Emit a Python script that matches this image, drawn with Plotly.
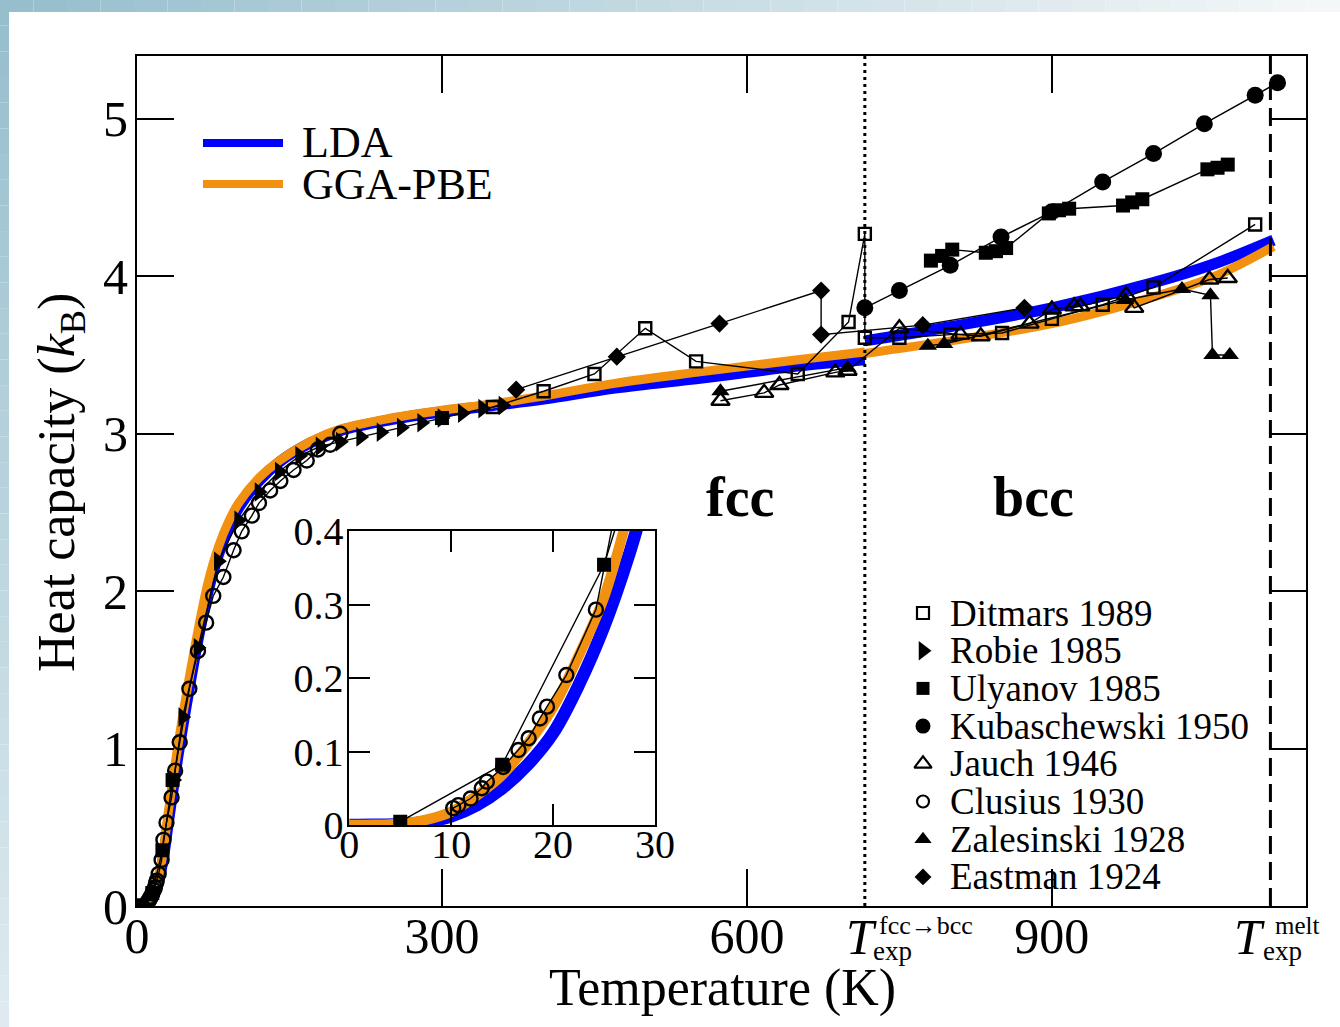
import plotly.graph_objects as go

# ---------------- calculated heat capacity (k_B) ----------------
T_FCC = [0, 2.5, 5, 7.5, 10, 12.5, 15, 17.5, 20, 22.5, 25, 27.5, 30, 35, 40, 45, 50,
         60, 70, 80, 90, 100, 120, 140, 170, 200, 250, 300, 350, 400, 470, 550, 600,
         650, 716]
LDA_FCC = [0, 0.0002, 0.001, 0.004, 0.012, 0.027, 0.05, 0.082, 0.125, 0.19, 0.27,
           0.37, 0.49, 0.72, 0.94, 1.14, 1.33, 1.69, 2.00, 2.23, 2.40, 2.53, 2.70,
           2.82, 2.94, 3.02, 3.09, 3.14, 3.18, 3.22, 3.29, 3.35, 3.39, 3.43, 3.47]
GGA_FCC = [0, 0.0003, 0.002, 0.007, 0.018, 0.04, 0.068, 0.11, 0.16, 0.23, 0.31,
           0.43, 0.56, 0.79, 1.01, 1.21, 1.40, 1.75, 2.06, 2.28, 2.44, 2.56, 2.72,
           2.83, 2.95, 3.03, 3.10, 3.15, 3.19, 3.24, 3.32, 3.39, 3.43, 3.47, 3.52]
T_BCC = [716, 800, 900, 1000, 1060, 1118]
LDA_BCC = [3.59, 3.68, 3.80, 3.96, 4.08, 4.23]
GGA_BCC = [3.51, 3.59, 3.70, 3.87, 4.00, 4.19]

# ---------------- experimental data (k_B) ----------------
DITMARS_T = [350, 400, 450, 500, 550, 650, 700, 716, 716, 750, 800, 851, 900, 950, 1000, 1100]
DITMARS_C = [3.17, 3.27, 3.38, 3.67, 3.46, 3.38, 3.71, 4.27, 3.61, 3.61, 3.63, 3.64, 3.73,
             3.82, 3.93, 4.33]

ROBIE_T = [36, 45, 60, 80, 100, 120, 140, 160, 180, 200, 220, 240, 260, 280, 300, 320, 340, 360]
ROBIE_C = [0.80, 1.20, 1.64, 2.19, 2.45, 2.63, 2.76, 2.86, 2.92, 2.95, 2.98, 3.01, 3.04,
           3.07, 3.10, 3.13, 3.16, 3.18]

ULYANOV_T = [5, 15, 25, 35, None, 300, None,
             781, 792, 802, 835, 845, 855, 897, 907, 917, 970, 979, 989, 1053, 1063, 1073]
ULYANOV_C = [0.0045, 0.082, 0.354, 0.80, None, 3.10, None,
             4.10, 4.13, 4.17, 4.15, 4.16, 4.18, 4.40, 4.42, 4.43, 4.45, 4.47, 4.49,
             4.68, 4.69, 4.71]

KUBASCHEWSKI_T = [716, 750, 800, 850, 900, 950, 1000, 1050, 1100, 1122]
KUBASCHEWSKI_C = [3.80, 3.91, 4.07, 4.25, 4.41, 4.60, 4.78, 4.97, 5.15, 5.23]

JAUCH_T = [574, 617, 632, 687, 699, 750, 810, 830, 878, 900, 922, 928, 973, 981, 1055, 1073]
JAUCH_C = [3.21, 3.26, 3.31, 3.39, 3.40, 3.67, 3.63, 3.62, 3.70, 3.79, 3.81, 3.81, 3.88,
           3.80, 3.98, 3.99]

CLUSIUS_T = [10.2, 10.7, 11.9, 13.0, 13.5, 15.1, 16.6, 17.6, 18.7, 19.4, 21.3, 24.2, 26,
             29, 34, 37.5, 42, 51.5, 60, 68, 75, 85, 95, 103, 113, 120, 131, 141, 154,
             167, 178, 190, 200]
CLUSIUS_C = [0.023, 0.027, 0.036, 0.050, 0.059, 0.079, 0.102, 0.118, 0.145, 0.161, 0.204,
             0.293, 0.42, 0.53, 0.69, 0.86, 1.04, 1.38, 1.62, 1.80, 1.97, 2.09, 2.26,
             2.38, 2.48, 2.56, 2.64, 2.70, 2.77, 2.83, 2.90, 2.93, 3.00]

ZALESINSKI_T = [574, 699, None, 778, 794, 972, 1028, 1056, 1058, 1075]
ZALESINSKI_C = [3.27, 3.42, None, 3.56, 3.57, 3.85, 3.92, 3.88, 3.50, 3.50]

EASTMAN_T = [373, 472, 573, 673, 673, 773, 873]
EASTMAN_C = [3.28, 3.49, 3.70, 3.91, 3.63, 3.69, 3.80]

T_TRANSITION = 716   # fcc -> bcc
T_MELT = 1115

X_TICKS = [0, 300, 600, 900]
Y_TICKS = [0, 1, 2, 3, 4, 5]
INSET_X_TICKS = [0, 10, 20, 30]
INSET_Y_TICKS = [0, 0.1, 0.2, 0.3, 0.4]
INSET_Y_LABELS = ["0", "0.1", "0.2", "0.3", "0.4"]

# ---------------- styling ----------------
FONT = "Liberation Serif"
BLUE = "#0000ff"
ORANGE = "#f29010"
W, H = 1340, 1027
ML, MR, MT, MB = 137, 34, 56, 121
PW, PH = W - ML - MR, H - MT - MB


def px(xp):
    """page pixel -> paper x"""
    return (xp - ML) / PW


def py(yp):
    """page pixel -> paper y"""
    return (MT + PH - yp) / PH


series = [
    # name, T, C, symbol, size, outline width, legend size
    ("Ditmars 1989", DITMARS_T, DITMARS_C, "square-open", 12, 2.4, 12),
    ("Robie 1985", ROBIE_T, ROBIE_C, "triangle-right", 17, 0, 17),
    ("Ulyanov 1985", ULYANOV_T, ULYANOV_C, "square", 14, 0, 13),
    ("Kubaschewski 1950", KUBASCHEWSKI_T, KUBASCHEWSKI_C, "circle", 17, 0, 15),
    ("Jauch 1946", JAUCH_T, JAUCH_C, "triangle-up-open", 16, 2.4, 15),
    ("Clusius 1930", CLUSIUS_T, CLUSIUS_C, "circle-open", 14, 2.4, 12),
    ("Zalesinski 1928", ZALESINSKI_T, ZALESINSKI_C, "triangle-up", 16, 0, 15),
    ("Eastman 1924", EASTMAN_T, EASTMAN_C, "diamond", 14, 0, 13),
]

fig = go.Figure()

for xa, ya, lw_scale in (("x", "y", 1.0), ("x2", "y2", 1.15)):
    fig.add_trace(go.Scatter(
        x=T_FCC + [None] + T_BCC, y=LDA_FCC + [None] + LDA_BCC, name="LDA",
        mode="lines", line=dict(color=BLUE, width=11 * lw_scale, shape="spline"),
        xaxis=xa, yaxis=ya, showlegend=False, hoverinfo="skip"))
    fig.add_trace(go.Scatter(
        x=T_FCC + [None] + T_BCC, y=GGA_FCC + [None] + GGA_BCC, name="GGA-PBE",
        mode="lines", line=dict(color=ORANGE, width=9 * lw_scale, shape="spline"),
        xaxis=xa, yaxis=ya, showlegend=False, hoverinfo="skip"))
    for name, T, C, sym, size, olw, _ in series:
        fig.add_trace(go.Scatter(
            x=T, y=C, name=name, mode="lines+markers",
            line=dict(color="black", width=1.4),
            marker=dict(symbol=sym, size=size, color="black",
                        line=dict(color="black", width=olw)),
            xaxis=xa, yaxis=ya, showlegend=False, connectgaps=False))

# legend glyphs on a hidden overlay axis spanning the plot area
LEG_X0, LEG_Y0, LEG_STEP = 923, 613, 37.7
for i, (name, T, C, sym, size, olw, lsize) in enumerate(series):
    yy = LEG_Y0 + i * LEG_STEP
    fig.add_trace(go.Scatter(
        x=[px(LEG_X0)], y=[py(yy)], mode="markers", xaxis="x3", yaxis="y3",
        marker=dict(symbol=sym, size=lsize, color="black",
                    line=dict(color="black", width=2.2 if olw else 0)),
        showlegend=False, hoverinfo="skip"))

axis_common = dict(showgrid=False, zeroline=False, showline=True, linecolor="black",
                   mirror="ticks", ticks="inside", tickcolor="black",
                   tickfont=dict(family=FONT, size=50, color="black"))

fig.update_layout(
    width=W, height=H,
    margin=dict(l=ML, r=MR, t=MT, b=MB, autoexpand=False),
    paper_bgcolor="white", plot_bgcolor="white",
    showlegend=False,
    xaxis=dict(axis_common, range=[0, 1150], tickvals=X_TICKS, ticklen=37, tickwidth=2,
               linewidth=2, domain=[0, 1], anchor="y", ticklabelstandoff=-15),
    yaxis=dict(axis_common, range=[0, 5.4], tickvals=Y_TICKS, ticklen=37, tickwidth=2,
               linewidth=2, domain=[0, 1], anchor="x", ticklabelstandoff=-3),
    xaxis2=dict(axis_common, range=[0, 30], tickvals=INSET_X_TICKS, ticklen=21,
                tickwidth=1.5, linewidth=1.5, domain=[px(349.3), px(655)], anchor="y2",
                ticklabelstandoff=-17,
                tickfont=dict(family=FONT, size=40, color="black")),
    yaxis2=dict(axis_common, range=[0, 0.4], tickvals=INSET_Y_TICKS,
                ticktext=INSET_Y_LABELS, ticklen=21, tickwidth=1.5, linewidth=1.5,
                domain=[py(825), py(531)], anchor="x2", ticklabelstandoff=-4,
                tickfont=dict(family=FONT, size=40, color="black")),
    xaxis3=dict(range=[0, 1], overlaying="x", visible=False, domain=[0, 1]),
    yaxis3=dict(range=[0, 1], overlaying="y", visible=False, domain=[0, 1]),
)

shapes = []
# inset background
shapes.append(dict(type="rect", xref="paper", yref="paper", x0=px(349.3), x1=px(655),
                   y0=py(825), y1=py(531), fillcolor="white", line=dict(width=0),
                   layer="below"))
# phase-transition and melting markers
shapes.append(dict(type="line", xref="x", yref="paper", x0=T_TRANSITION, x1=T_TRANSITION,
                   y0=0, y1=1, line=dict(color="black", width=3, dash="3px,4px")))
shapes.append(dict(type="line", xref="x", yref="paper", x0=T_MELT, x1=T_MELT,
                   y0=0, y1=1, line=dict(color="black", width=3, dash="18px,8px")))
# hand-drawn legend for the calculations
for yy, col in ((143, BLUE), (184, ORANGE)):
    shapes.append(dict(type="line", xref="paper", yref="paper", x0=px(203), x1=px(283),
                       y0=py(yy), y1=py(yy), line=dict(color=col, width=8)))


def lerp_col(c0, c1, t):
    return "rgb(%d,%d,%d)" % tuple(round(a + (b - a) * t) for a, b in zip(c0, c1))


# slide frame: fading band along the top and left edges
N = 40
for i in range(N):
    t = i / (N - 1)
    shapes.append(dict(type="rect", xref="paper", yref="paper",
                       x0=px(W * i / N), x1=px(W * (i + 1) / N), y0=py(12), y1=py(0),
                       fillcolor=lerp_col((150, 190, 205), (244, 247, 248), t),
                       line=dict(width=0), layer="below"))
    shapes.append(dict(type="rect", xref="paper", yref="paper",
                       x0=px(0), x1=px(9), y0=py(H * (i + 1) / N), y1=py(H * i / N),
                       fillcolor=lerp_col((150, 190, 205), (222, 234, 239), t),
                       line=dict(width=0), layer="below"))
fig.update_layout(shapes=shapes)

ann = []


def text(x, y, s, size, xanchor="center", yanchor="middle", **kw):
    ann.append(dict(xref="paper", yref="paper", x=px(x), y=py(y), text=s, showarrow=False,
                    xanchor=xanchor, yanchor=yanchor,
                    font=dict(family=FONT, size=size, color="black"), **kw))


text(300, 143, "LDA", 44, xanchor="left")
text(300, 184, "GGA-PBE", 44, xanchor="left")
for i, (name, *_rest) in enumerate(series):
    text(948, LEG_Y0 + i * LEG_STEP, name, 37, xanchor="left")
text(740, 497, "<b>fcc</b>", 56)
text(1033, 497, "<b>bcc</b>", 56)
text(722, 988, "Temperature (K)", 52)
text(60, 483, "Heat capacity (<i>k</i><sub>B</sub>)", 52, textangle=-90)
# temperature markers under the axis
text(861, 937, "<i>T</i>", 50)
text(871, 951, "exp", 27, xanchor="left")
text(877, 925, "fcc→bcc", 26, xanchor="left")
text(1249, 937, "<i>T</i>", 50)
text(1261, 951, "exp", 27, xanchor="left")
text(1273, 925, "melt", 25, xanchor="left")
fig.update_layout(annotations=ann)

fig.write_html("out.html")
